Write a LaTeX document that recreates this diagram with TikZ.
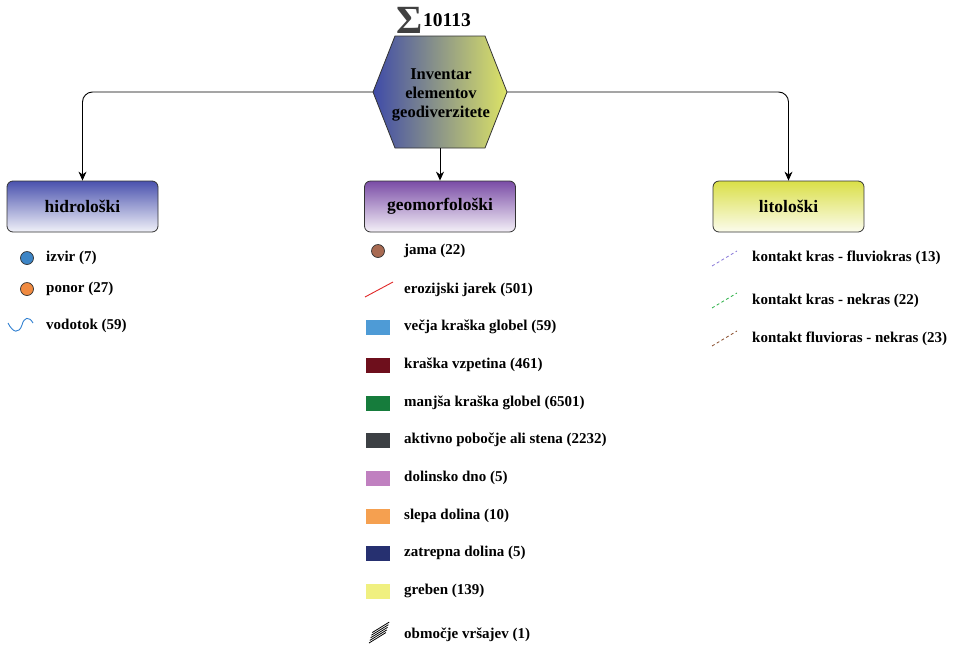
\documentclass[tikz,border=0pt]{standalone}
\usepackage{fontspec}
\setmainfont{Liberation Serif}
\usetikzlibrary{arrows.meta}
\definecolor{hexL}{HTML}{3F4BA8}
\definecolor{hexR}{HTML}{DDE466}
\definecolor{hidroT}{HTML}{4A52AE}
\definecolor{geoT}{HTML}{7A4CA6}
\definecolor{litoT}{HTML}{DADF48}
\definecolor{cIzvir}{HTML}{3D85C6}
\definecolor{cPonor}{HTML}{F08A40}
\definecolor{cVod}{HTML}{2F7FD0}
\definecolor{cJama}{HTML}{A86A52}
\definecolor{cEroz}{HTML}{E02828}
\definecolor{cVecja}{HTML}{4E9BD6}
\definecolor{cVzp}{HTML}{6E0F1C}
\definecolor{cManj}{HTML}{167C3C}
\definecolor{cAkt}{HTML}{3C4044}
\definecolor{cDol}{HTML}{C080C0}
\definecolor{cSlepa}{HTML}{F5A050}
\definecolor{cZat}{HTML}{263070}
\definecolor{cGreb}{HTML}{F0F080}
\definecolor{cK1}{HTML}{8A7AD8}
\definecolor{cK2}{HTML}{2EB24A}
\definecolor{cK3}{HTML}{8A5030}
\begin{document}
\begin{tikzpicture}[x=1pt,y=-1pt,
  catbox/.style={draw=black!80,line width=0.8pt,rounded corners=6pt,minimum width=151pt,minimum height=51pt,
     font=\fontsize{17.5}{17.5}\selectfont\bfseries,inner sep=0pt},
  lbl/.style={anchor=west,font=\fontsize{15}{15}\selectfont\bfseries,inner sep=0pt},
  conn/.style={draw=black,line width=0.9pt,rounded corners=10pt,-{Stealth[length=9pt,width=8pt]}},
  dot/.style={circle,draw=black!80,line width=0.7pt,minimum size=13pt,inner sep=0pt},
  swatch/.style={minimum width=24pt,minimum height=15pt,inner sep=0pt},
  kline/.style={line width=0.8pt,dash pattern=on 3pt off 2.5pt}]
\useasboundingbox (0,0) rectangle (955,646);
% title
\node[font=\fontsize{40}{40}\selectfont\bfseries,text=black!75,inner sep=0pt] (sig) at (410,20) {Σ};
\node[anchor=west,font=\fontsize{19.5}{19.5}\selectfont\bfseries,inner sep=0pt] (num) at (423,20) {10113};
% hexagon
\shade[left color=hexL,right color=hexR,draw=black!80,line width=0.8pt]
  (373,92) -- (395,36) -- (485,36) -- (507,92) -- (485,148) -- (395,148) -- cycle;
\coordinate (hexW) at (373,92);
\coordinate (hexE) at (507,92);
\coordinate (hexS) at (440,148);
\node[align=center,font=\fontsize{16.5}{19}\selectfont\bfseries,inner sep=0pt] (hex) at (441,95) {Inventar\\elementov\\geodiverzitete};
% category boxes
\node[catbox,top color=hidroT,bottom color=white!92!hidroT] (hidro) at (82.5,206.5) {hidrološki};
\node[catbox,top color=geoT,bottom color=white!92!geoT] (geo) at (440,206.5) {geomorfološki};
\node[catbox,top color=litoT,bottom color=white!90!litoT] (lito) at (788.5,206.5) {litološki};
% connectors
\draw[conn] (hexW) -| (hidro.north);
\draw[conn] (hexE) -| (lito.north);
\draw[conn] (hexS) -- (geo.north);
% hidro legend
\node[dot,fill=cIzvir] (izvirS) at (27,258) {};
\node[lbl] (izvir) at (46,258) {izvir (7)};
\node[dot,fill=cPonor] (ponorS) at (27,289) {};
\node[lbl] (ponor) at (46,289) {ponor (27)};
\draw[cVod,line width=0.9pt] (8,323) .. controls (13,333) and (19,334) .. (22,325) .. controls (24,317) and (29,316) .. (33,323);
\node[lbl] (vod) at (46,326) {vodotok (59)};
% geomorf legend
\node[dot,fill=cJama] (jamaS) at (378,251) {};
\node[lbl] (jama) at (404,251) {jama (22)};
\draw[cEroz,line width=0.9pt] (365,297) -- (393,282);
\node[lbl] (eroz) at (404,290) {erozijski jarek (501)};
\node[swatch,fill=cVecja] (s1) at (378,327) {};
\node[lbl] (t1) at (404,327) {večja kraška globel (59)};
\node[swatch,fill=cVzp] (s2) at (378,365) {};
\node[lbl] (t2) at (404,365) {kraška vzpetina (461)};
\node[swatch,fill=cManj] (s3) at (378,403) {};
\node[lbl] (t3) at (404,403) {manjša kraška globel (6501)};
\node[swatch,fill=cAkt] (s4) at (378,440) {};
\node[lbl] (t4) at (404,440) {aktivno pobočje ali stena (2232)};
\node[swatch,fill=cDol] (s5) at (378,478) {};
\node[lbl] (t5) at (404,478) {dolinsko dno (5)};
\node[swatch,fill=cSlepa] (s6) at (378,516) {};
\node[lbl] (t6) at (404,516) {slepa dolina (10)};
\node[swatch,fill=cZat] (s7) at (378,553) {};
\node[lbl] (t7) at (404,553) {zatrepna dolina (5)};
\node[swatch,fill=cGreb] (s8) at (378,591) {};
\node[lbl] (t8) at (404,591) {greben (139)};
\foreach \i in {0,...,4}{
  \draw[black,line width=0.8pt] (369+0.8*\i,643-2.6*\i) -- (386+0.8*\i,632.5-2.6*\i);
}
\node[lbl] (t9) at (404,635) {območje vršajev (1)};
% lito legend
\draw[kline,cK1] (712,266) -- (737,251);
\node[lbl] (k1) at (752,258) {kontakt kras - fluviokras (13)};
\draw[kline,cK2] (712,308) -- (737,293);
\node[lbl] (k2) at (752,301) {kontakt kras - nekras (22)};
\draw[kline,cK3] (712,346) -- (737,331);
\node[lbl] (k3) at (752,339) {kontakt fluvioras - nekras (23)};
\end{tikzpicture}
\end{document}
